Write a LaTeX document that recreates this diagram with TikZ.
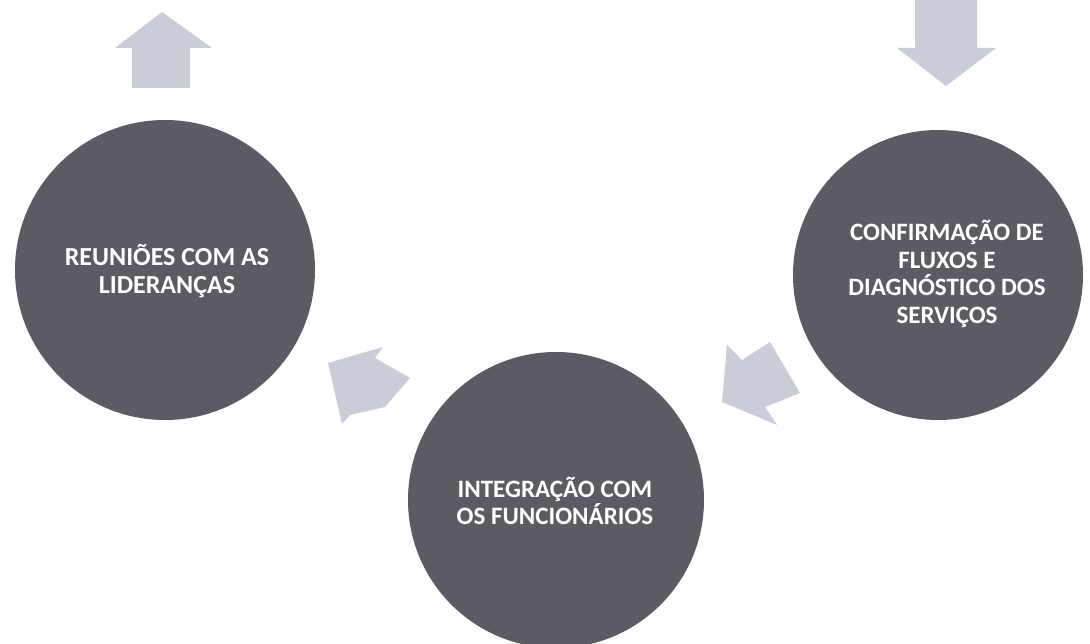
\documentclass[tikz,border=0pt]{standalone}
\usepackage{fontspec}
\setmainfont{Carlito}
\definecolor{circfill}{HTML}{5C5B64}
\definecolor{arrfill}{HTML}{CACCD7}
\begin{document}
\begin{tikzpicture}[x=1pt,y=-1pt,
  stage/.style={circle,fill=circfill,draw=none,minimum size=#1,inner sep=0pt},
  lbl/.style={text=white,font=\bfseries\fontsize{25}{27.5}\selectfont,align=center},
  blockarrow/.style={fill=arrfill,draw=none}]
\useasboundingbox (0,0) rectangle (1090,644);
\fill[white] (0,0) rectangle (1090,644);
% circles
\node[stage=300pt] (lead) at (165,270) {};
\node[stage=296pt] (func) at (556,500) {};
\node[stage=290pt] (conf) at (938,275) {};
% labels
\node[lbl,font=\bfseries\fontsize{26}{28}\selectfont] (leadtxt) at (167,271) {REUNIÕES COM AS\\LIDERANÇAS};
\node[lbl] (functxt) at (555,501) {INTEGRAÇÃO COM\\OS FUNCIONÁRIOS};
\node[lbl] (conftxt) at (947,274) {CONFIRMAÇÃO DE\\FLUXOS E\\DIAGNÓSTICO DOS\\SERVIÇOS};
% up arrow (top left)
\fill[blockarrow] (162,12) -- (212,48) -- (190,48) -- (190,88) -- (132,88) -- (132,48) -- (115,48) -- cycle;
% down arrow (top right)
\fill[blockarrow] (946,86) -- (996,48) -- (977,48) -- (977,0) -- (915,0) -- (915,48) -- (897,48) -- cycle;
% arrow between bottom and left circles
\fill[blockarrow] (328,363) -- (383,347) -- (375,358) -- (410,378) -- (385,407) -- (350,415) -- (342,424) -- cycle;
% arrow between right and bottom circles
\fill[blockarrow] (722,402) -- (727,345) -- (742,360) -- (770,342) -- (800,393) -- (765,407) -- (777,425) -- cycle;
\end{tikzpicture}
\end{document}
